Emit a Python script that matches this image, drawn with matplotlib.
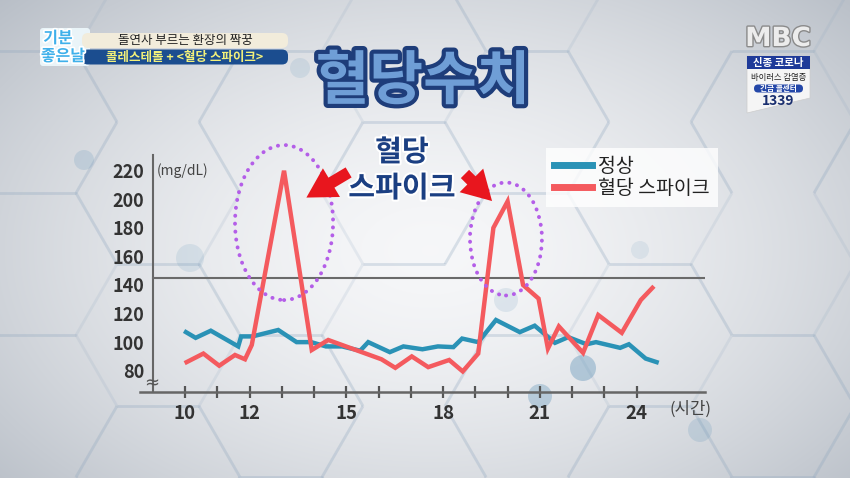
import numpy as np
import matplotlib
matplotlib.use('Agg')
import matplotlib.pyplot as plt
from matplotlib.patches import Ellipse, FancyArrowPatch, Rectangle, FancyBboxPatch, Circle, Polygon
from matplotlib.collections import LineCollection
import matplotlib.patheffects as pe

plt.rcParams['font.family'] = ['Noto Sans CJK KR', 'DejaVu Sans']

# ---------------- data ----------------
hours_normal = [10.03, 10.33, 10.80, 11.65, 11.74, 12.09, 12.89, 13.46, 13.91, 14.37,
                14.87, 15.43, 15.68, 16.35, 16.77, 17.36, 17.84, 18.32, 18.59, 19.09,
                19.64, 20.38, 20.84, 21.47, 21.88, 22.45, 22.74, 23.49, 23.76, 24.28, 24.62]
glucose_normal = [107, 103, 108, 97, 104, 104, 108.5, 100, 100, 97,
                  97, 94, 100, 93, 97, 95, 97, 96.5, 102.5, 100,
                  115.5, 107, 111.5, 99.5, 103.5, 98.5, 100, 96, 98.5, 88.5, 86]

hours_spike = [10.05, 10.57, 11.06, 11.55, 11.86, 12.07, 13.07, 13.93, 14.44, 16.09,
               16.52, 17.03, 17.54, 18.19, 18.61, 19.09, 19.56, 20.00, 20.48, 20.96,
               21.25, 21.59, 22.34, 22.81, 23.54, 24.13, 24.49]
glucose_spike = [86, 92, 83.5, 91, 88, 98, 220, 94.5, 101.5, 88,
                 82, 90, 82.5, 87.5, 79.5, 92, 180, 198.5, 140, 130.5,
                 95.5, 111, 92.5, 119, 106.5, 129.5, 138]

series_names = ['정상', '혈당 스파이크']
x_ticks = list(range(10, 25))
x_labels = ['10', '', '12', '', '', '15', '', '', '18', '', '', '21', '', '', '24']
y_ticks = [80, 100, 120, 140, 160, 180, 200, 220]
threshold = 145

TEAL = '#2a92b6'
RED = '#f45a5e'

W, H = 850, 478
fig = plt.figure(figsize=(W / 100, H / 100), dpi=100)

# ---------------- background ----------------
bg = fig.add_axes([0, 0, 1, 1], zorder=-10)
bg.set_xlim(0, W)
bg.set_ylim(H, 0)
bg.axis('off')
yy, xx = np.mgrid[0:H, 0:W]
d = np.sqrt(((xx - 430) / 520.0) ** 2 + ((yy - 250) / 330.0) ** 2)
d = np.clip(d, 0, 1.3) / 1.3
c0 = np.array([0.965, 0.968, 0.975])
c1 = np.array([0.66, 0.69, 0.73])
img = c0 + (c1 - c0) * (d[..., None] ** 1.6)
bg.imshow(img, extent=[0, W, H, 0], aspect='auto', zorder=0)

# faint hexagon network (partial)
s = 82
segs = []
for i in range(-2, 10):
    for j in range(-2, 8):
        cx = i * 1.5 * s + 35
        cy = j * np.sqrt(3) * s + (i % 2) * np.sqrt(3) / 2 * s - 20
        pts = [(cx + s * np.cos(np.pi / 3 * k), cy + s * np.sin(np.pi / 3 * k)) for k in range(7)]
        for k in range(6):
            if (i * 3 + j * 5 + k) % 4 != 0:
                segs.append([pts[k], pts[k + 1]])
bg.add_collection(LineCollection(segs, colors='#8ea6bf', linewidths=2.0, alpha=0.16, zorder=1))
for (cx, cy, r, a) in [(583, 368, 13, 0.4), (540, 396, 12, 0.35), (506, 300, 12, 0.15),
                       (190, 258, 14, 0.15), (84, 160, 10, 0.2), (300, 68, 10, 0.15),
                       (700, 430, 12, 0.2), (640, 250, 9, 0.12)]:
    bg.add_patch(Circle((cx, cy), r, color='#5f93b8', alpha=a, lw=0, zorder=2))

# ---------------- main chart ----------------
x_left, x_right = 8.605, 26.12
y_bot, y_top = 65.3, 231.0
ax = fig.add_axes([140 / W, (H - 391.7) / H, (705 - 140) / W, (391.7 - 155) / H])
ax.set_facecolor('none')
ax.set_xlim(x_left, x_right)
ax.set_ylim(y_bot, y_top)

ax.plot(hours_normal, glucose_normal, color=TEAL, lw=3.2, solid_joinstyle='miter', zorder=4,
        label=series_names[0])
ax.plot(hours_spike, glucose_spike, color=RED, lw=3.2, solid_joinstyle='miter', zorder=5,
        label=series_names[1])
ax.axhline(threshold, xmin=(9.0 - x_left) / (x_right - x_left), xmax=1, color='#6a6a6a', lw=1.5, zorder=3)

for sp in ['top', 'right']:
    ax.spines[sp].set_visible(False)
ax.spines['left'].set_position(('data', 9.0))
ax.spines['left'].set_color('#666666')
ax.spines['left'].set_linewidth(1.5)
ax.spines['bottom'].set_color('#666666')
ax.spines['bottom'].set_linewidth(1.8)

ax.set_yticks(y_ticks)
ax.set_yticklabels([str(v) for v in y_ticks])
ax.tick_params(axis='y', length=0, pad=6, labelsize=13, labelcolor='#333333')
ax.set_xticks(x_ticks)
ax.set_xticklabels(x_labels)
ax.tick_params(axis='x', direction='inout', length=8, width=1.6, color='#555555',
               pad=5, labelsize=13.5, labelcolor='#333333')
for lab in ax.get_xticklabels() + ax.get_yticklabels():
    lab.set_fontweight('bold')

# dotted ellipses around spikes
for (c, w_, h_) in [((13.07, 183.7), 3.04, 108.5), ((19.95, 172.2), 2.23, 79.1)]:
    e = Ellipse(c, w_, h_, fill=False, ec='#b45ee8', lw=2.8, ls=(0, (0.05, 2.0)),
                clip_on=False, zorder=6)
    e.set_capstyle('round')
    ax.add_patch(e)

leg = ax.legend(loc='upper left', bbox_to_anchor=(546 / W, 1 - 148 / H), bbox_transform=fig.transFigure,
                frameon=True, fancybox=False, facecolor='white', framealpha=0.8, edgecolor='none',
                fontsize=14, handlelength=1.95, handletextpad=0.3, borderpad=0.42,
                labelspacing=0.02, borderaxespad=0)
for ln in leg.get_lines():
    ln.set_linewidth(5)
for t in leg.get_texts():
    t.set_color('#222222')

# ---------------- overlay: annotations & TV graphics ----------------
ov = fig.add_axes([0, 0, 1, 1], zorder=10)
ov.set_xlim(0, W)
ov.set_ylim(H, 0)
ov.axis('off')
ov.set_facecolor('none')

ov.text(157, 171, '(mg/dL)', fontsize=10, color='#444444', va='center', ha='left')
ov.text(712, 409, '(시간)', fontsize=12, color='#444444', va='center', ha='right')
ov.text(152, 383, '≈', fontsize=13, color='#555555', va='center', ha='center', family='DejaVu Sans')

# Title
ov.text(423, 82, '혈당수치', fontsize=42, fontweight='heavy', color='#6f9ed6', ha='center', va='center',
        path_effects=[pe.withStroke(linewidth=6, foreground='#1e3d7a')])

# spike annotation text
stroke_w = [pe.withStroke(linewidth=3, foreground='white')]
ov.text(402, 152, '혈당', fontsize=21, fontweight='heavy', color='#1b3f82', ha='center', va='center',
        path_effects=stroke_w)
ov.text(402, 188, '스파이크', fontsize=21, fontweight='heavy', color='#1b3f82', ha='center', va='center',
        path_effects=stroke_w)

for (tail, tip) in [((351, 171), (304, 199)), ((463, 172), (494, 203))]:
    ov.add_patch(FancyArrowPatch(tail, tip, arrowstyle='simple,head_length=1.05,head_width=1.2,tail_width=0.42',
                                 mutation_scale=20, color='#e8161e', lw=0))

# top-left program logo & banners
ov.add_patch(FancyBboxPatch((40, 28), 50, 38, boxstyle='round,pad=0,rounding_size=3', fc='#eef9fd', ec='none', alpha=0.9))
logo_fx = [pe.withStroke(linewidth=2.5, foreground='white')]
ov.text(58, 38, '기분', fontsize=11.5, fontweight='bold', color='#3fb0ea', ha='center', va='center', path_effects=logo_fx)
ov.text(63, 56, '좋은날', fontsize=11.5, fontweight='bold', color='#3fb0ea', ha='center', va='center', path_effects=logo_fx)
ov.add_patch(FancyBboxPatch((82, 33), 206, 15, boxstyle='round,pad=0,rounding_size=6', fc='#f2ecdb', ec='none'))
ov.text(185, 40.5, '돌연사 부르는 환장의 짝꿍', fontsize=9, color='#222222', ha='center', va='center')
ov.add_patch(FancyBboxPatch((82, 49.5), 206, 15, boxstyle='round,pad=0,rounding_size=6', fc='#1b4d8f', ec='none'))
ov.text(185, 57, '콜레스테롤 + <혈당 스파이크>', fontsize=9, fontweight='bold', color='#f2f07a',
        ha='center', va='center')

# MBC logo and notice box
ov.text(778, 39, 'MBC', fontsize=19, fontweight='bold', color='#ececec', ha='center', va='center',
        family='DejaVu Sans', path_effects=[pe.withStroke(linewidth=2, foreground='#8a8a8a')])
ov.add_patch(Polygon([(747, 56), (810, 56), (810, 98), (747, 113)], closed=True, fc='#f5f5f5', ec='#cccccc', lw=0.5))
ov.add_patch(Rectangle((747, 56), 63, 13, fc='#1e3a99', ec='none'))
ov.text(778.5, 62.5, '신종 코로나', fontsize=7.5, color='white', ha='center', va='center', fontweight='bold')
ov.text(778.5, 77, '바이러스 감염증', fontsize=6, color='#222222', ha='center', va='center')
ov.add_patch(FancyBboxPatch((754, 84.5), 49, 8, boxstyle='round,pad=0,rounding_size=4', fc='#2447a8', ec='none'))
ov.text(778.5, 88.5, '긴급 콜센터', fontsize=5.5, color='white', ha='center', va='center', fontweight='bold')
ov.text(778.5, 101, '1339', fontsize=10, color='#1a2f6f', ha='center', va='center', fontweight='bold')

fig.savefig('out.png', dpi=100)
